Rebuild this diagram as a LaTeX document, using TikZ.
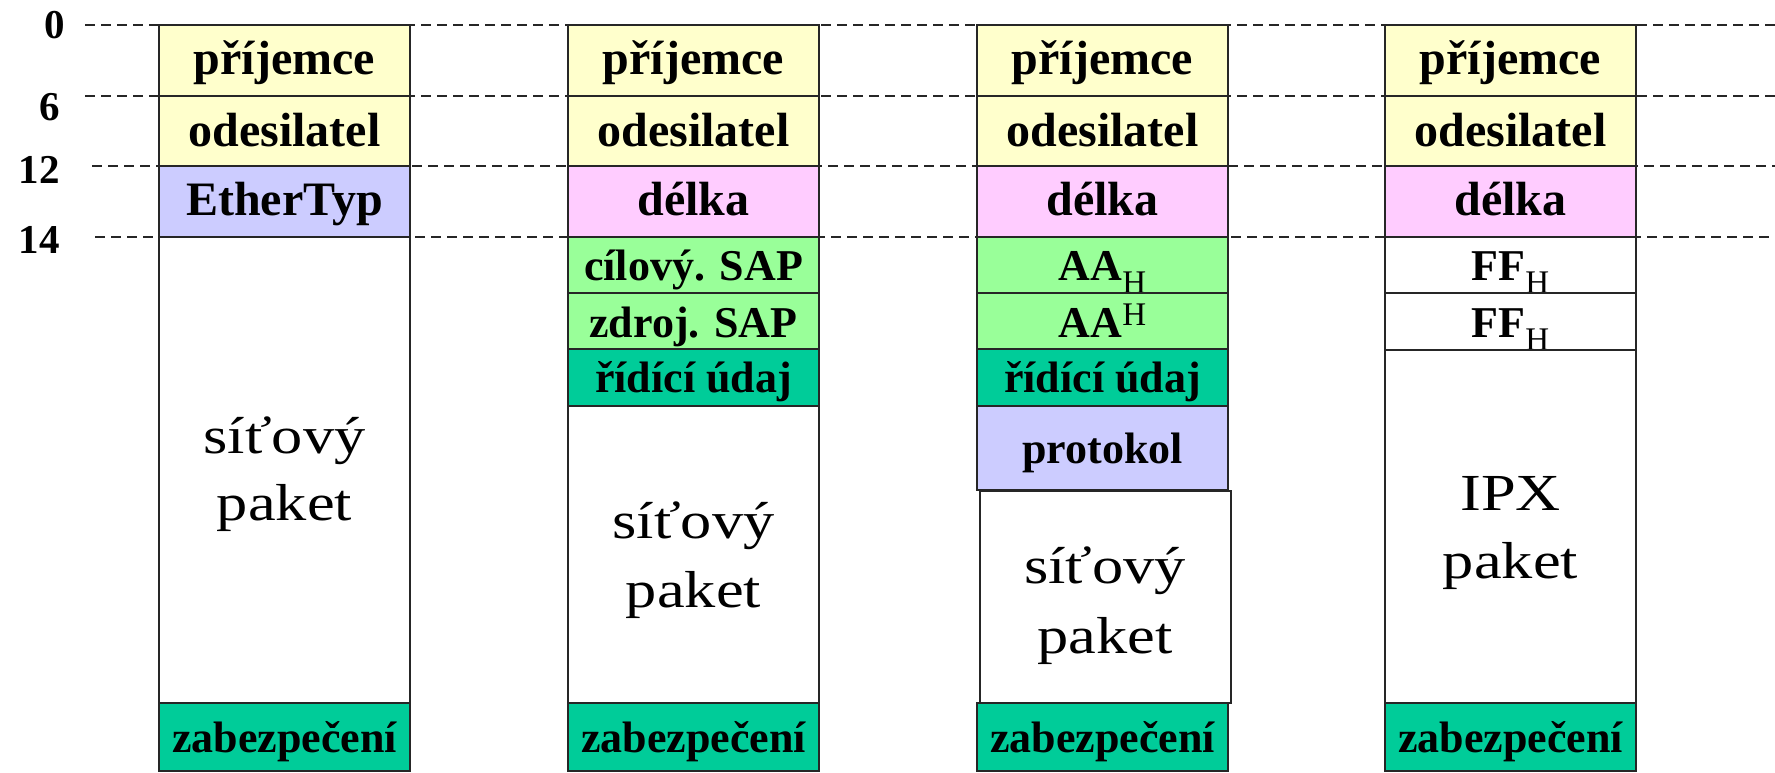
\documentclass[tikz,border=0pt]{standalone}
\usepackage{fontspec}
\setmainfont{Liberation Serif}
\newfontfamily\bigserif[FakeStretch=1.2]{Liberation Serif}
\definecolor{yel}{HTML}{FFFFCC}
\definecolor{lav}{HTML}{CCCCFF}
\definecolor{pnk}{HTML}{FFCCFF}
\definecolor{lgr}{HTML}{99FF99}
\definecolor{tea}{HTML}{00CC99}
\newcommand\subH{\raisebox{-13pt}{\fontsize{33}{33}\selectfont\mdseries H}}
\newcommand\supH{\raisebox{12pt}{\fontsize{33}{33}\selectfont\mdseries H}}
\begin{document}
\begin{tikzpicture}[x=1pt,y=-1pt,
  box/.style={draw=black!85, line width=1.6pt},
  lab/.style={anchor=base, inner sep=0pt, font=\fontsize{48}{50}\selectfont\bfseries},
  labs/.style={anchor=base, inner sep=0pt, font=\fontsize{44}{46}\selectfont\bfseries},
  big/.style={anchor=base, inner sep=0pt, font=\bigserif\fontsize{52}{60}\selectfont},
  tick/.style={anchor=base east, inner sep=0pt, font=\fontsize{41}{43}\selectfont\bfseries},
  guide/.style={dash pattern=on 10pt off 6pt, line width=1.4pt, black!85}]
\useasboundingbox[fill=white] (0,0) rectangle (1775,772);

% common rows
\foreach \xl/\cn in {159/1,568/2,977/3,1385/4} {
  \pgfmathsetmacro\xr{\xl+251}
  \pgfmathsetmacro\xc{\xl+125.5}
  \draw[box, fill=yel] (\xl,25) rectangle (\xr,96);
  \draw[box, fill=yel] (\xl,96) rectangle (\xr,166);
  \node[lab] (prij\cn) at (\xc,74) {příjemce};
  \node[lab] (odes\cn) at (\xc,146) {odesilatel};
}

% column 1
\draw[box, fill=lav] (159,166) rectangle (410,237);
\node[lab] (eth) at (284.5,215) {EtherTyp};
\draw[box, fill=white] (159,237) rectangle (410,703);
\node[big] (pa1a) at (284.5,453) {síťový};
\node[big] (pa1b) at (284.5,520) {paket};

% column 2
\draw[box, fill=pnk] (568,166) rectangle (819,237);
\node[lab] (del2) at (693.5,215) {délka};
\draw[box, fill=lgr] (568,237) rectangle (819,293);
\node[labs] (csap) at (693.5,280) {cílový. SAP};
\draw[box, fill=lgr] (568,293) rectangle (819,349);
\node[labs] (zsap) at (693.5,337) {zdroj. SAP};
\draw[box, fill=tea] (568,349) rectangle (819,406);
\node[labs] (rid2) at (693.5,392) {řídící údaj};
\draw[box, fill=white] (568,406) rectangle (819,703);
\node[big] (pa2a) at (693.5,538) {síťový};
\node[big] (pa2b) at (693.5,607) {paket};

% column 3
\draw[box, fill=pnk] (977,166) rectangle (1228,237);
\node[lab] (del3) at (1102.5,215) {délka};
\draw[box, fill=lgr] (977,237) rectangle (1228,293);
\node[labs] (aa1) at (1102.5,280) {AA\subH};
\draw[box, fill=lgr] (977,293) rectangle (1228,349);
\node[labs] (aa2) at (1102.5,337) {AA\supH};
\draw[box, fill=tea] (977,349) rectangle (1228,406);
\node[labs] (rid3) at (1102.5,392) {řídící údaj};
\draw[box, fill=lav] (977,406) rectangle (1228,490);
\node[labs] (prot) at (1102.5,463) {protokol};
\draw[box, fill=white] (980,491) rectangle (1231,703);
\node[big] (pa3a) at (1105,583) {síťový};
\node[big] (pa3b) at (1105,653) {paket};

% column 4
\draw[box, fill=pnk] (1385,166) rectangle (1636,237);
\node[lab] (del4) at (1510.5,215) {délka};
\draw[box, fill=white] (1385,237) rectangle (1636,293);
\node[labs] (ff1) at (1510.5,280) {FF\subH};
\draw[box, fill=white] (1385,293) rectangle (1636,350);
\node[labs] (ff2) at (1510.5,337) {FF\subH};
\draw[box, fill=white] (1385,350) rectangle (1636,703);
\node[big] (ipxa) at (1510.5,510) {IPX};
\node[big] (ipxb) at (1510.5,578) {paket};

% bottom rows
\foreach \xl/\cn in {159/1,568/2,977/3,1385/4} {
  \pgfmathsetmacro\xr{\xl+251}
  \pgfmathsetmacro\xc{\xl+125.5}
  \draw[box, fill=tea] (\xl,703) rectangle (\xr,771);
  \node[labs] (zab\cn) at (\xc,752) {zabezpečení};
}

% guide lines
\draw[guide] (85,25) -- (1775,25);
\draw[guide] (85,96) -- (1775,96);
\draw[guide] (92,166) -- (1775,166);
\draw[guide] (95,237) -- (1775,237);

% ticks
\node[tick] (t0) at (65,38) {0};
\node[tick] (t6) at (60,120) {6};
\node[tick] (t12) at (60,183) {12};
\node[tick] (t14) at (60,253) {14};
\end{tikzpicture}
\end{document}
